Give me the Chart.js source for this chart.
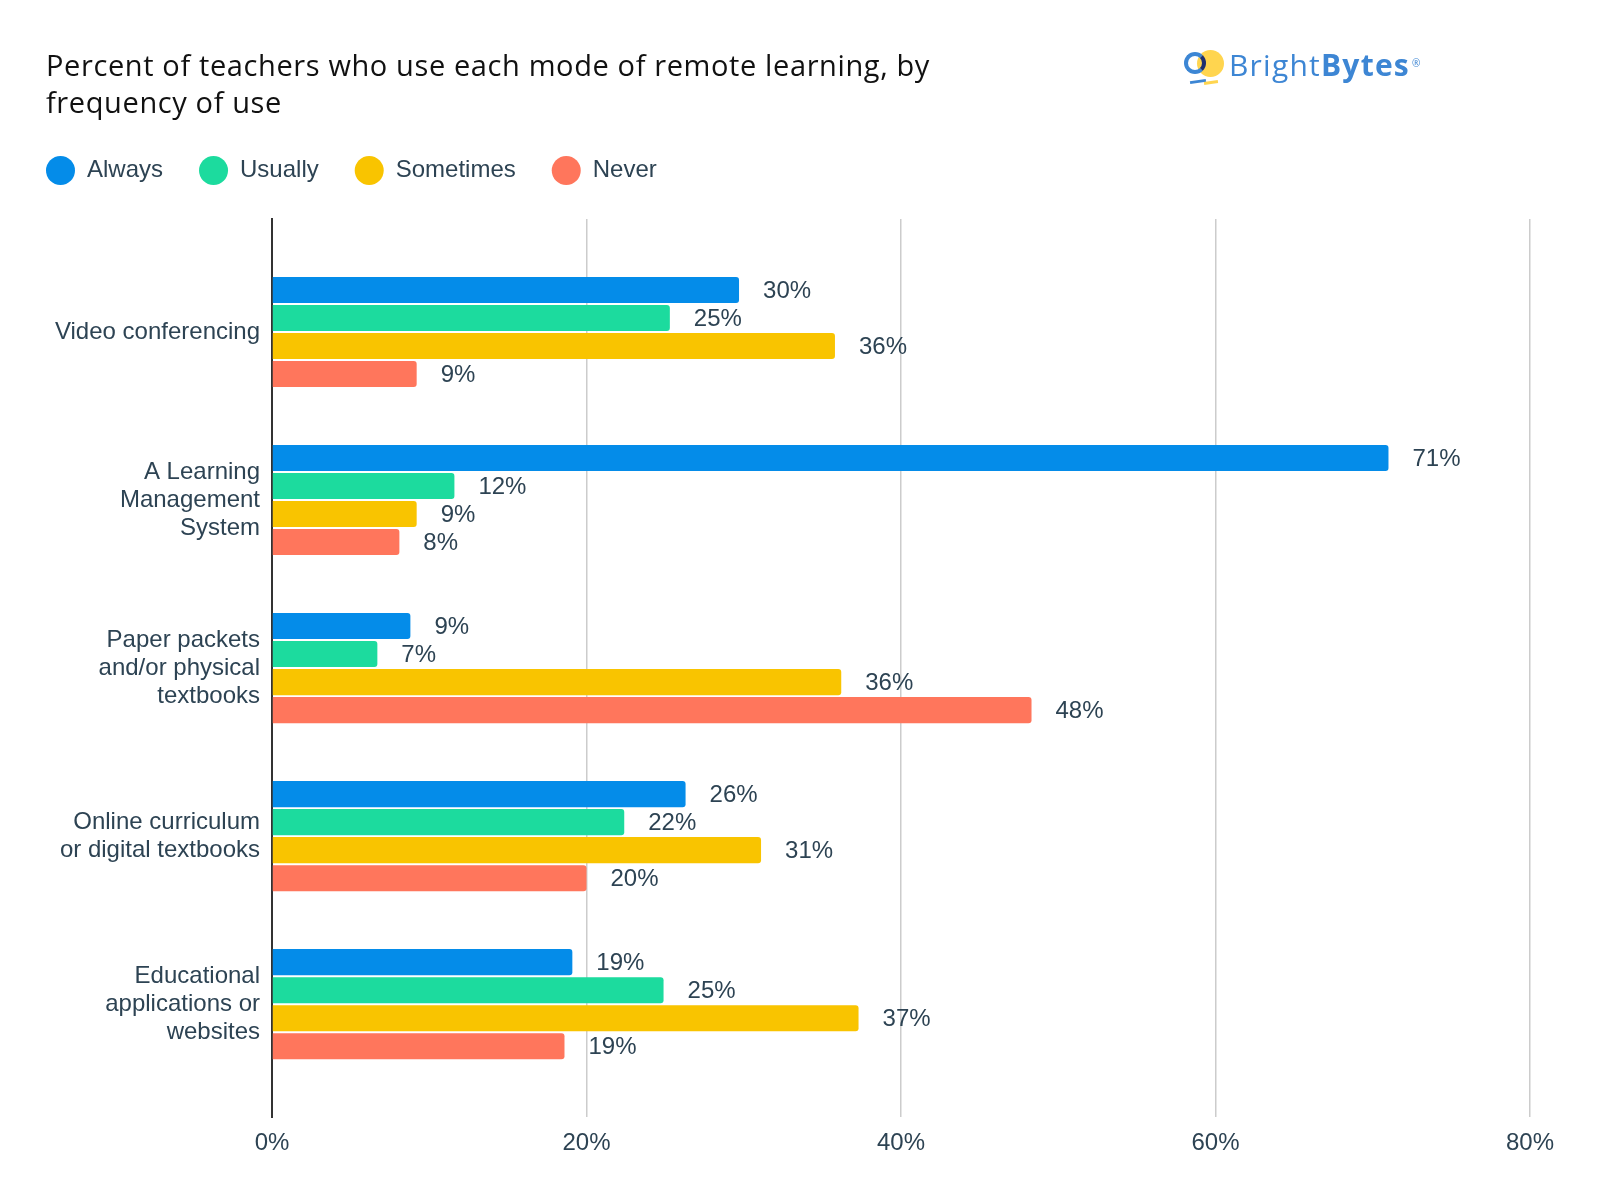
<!DOCTYPE html>
<html>
<head>
<meta charset="utf-8">
<script src="https://cdn.jsdelivr.net/npm/chart.js@4.4.1/dist/chart.umd.min.js"></script>
<style>
  html, body { margin: 0; padding: 0; background: #fff; }
  #wrap { position: relative; width: 1600px; height: 1200px; }
  #chart { position: absolute; left: 0; top: 0; }
  #title { position: absolute; left: 46px; top: 46px; font-family: "Open Sans", sans-serif; font-size: 29px; line-height: 37px; color: #111; white-space: nowrap; }
  .logo-disc { position: absolute; left: 1197px; top: 50px; width: 27px; height: 27px; border-radius: 50%; background: #ffd54f; }
  .logo-ring { position: absolute; left: 1184px; top: 52px; width: 22px; height: 22px; box-sizing: border-box; border-radius: 50%; border: 4px solid #3c86d4; border-right-color: #1f2f6e; }
  .logo-line1 { position: absolute; left: 1190px; top: 80px; width: 16px; height: 3px; background: #3c86d4; transform: rotate(-8deg); }
  .logo-line2 { position: absolute; left: 1204px; top: 81px; width: 14px; height: 3px; background: #ffd54f; transform: rotate(-8deg); }
  .logo-word { position: absolute; left: 1229px; top: 50px; font-family: "Open Sans", sans-serif; font-size: 30px; font-weight: 500; line-height: 30px; color: #3d86d4; white-space: nowrap; }
  .logo-word b { font-weight: 700; }
  .logo-word sup { font-size: 10px; font-weight: 400; vertical-align: top; position: relative; top: -2px; margin-left: 2px; }
</style>
</head>
<body>
<div id="wrap">
  <canvas id="chart" width="1600" height="1200"></canvas>
  <div id="title"><span id="title1">Percent of teachers who use each mode of remote learning, by</span><br><span>frequency of use</span></div>
  <div class="logo-disc"></div>
  <div class="logo-ring"></div>
  <div class="logo-line1"></div>
  <div class="logo-line2"></div>
  <div class="logo-word"><span id="word">Bright<b>Bytes</b></span><sup>®</sup></div>
</div>
<script>
const categoryLines = [
    ['Video conferencing'],
    ['A Learning', 'Management', 'System'],
    ['Paper packets', 'and/or physical', 'textbooks'],
    ['Online curriculum', 'or digital textbooks'],
    ['Educational', 'applications or', 'websites']
];
const seriesNames = ['Always', 'Usually', 'Sometimes', 'Never'];
const seriesColors = ['#048ce9', '#1cdb9e', '#f9c400', '#ff765c'];
const always    = [29.7, 71.0, 8.8, 26.3, 19.1];
const usually   = [25.3, 11.6, 6.7, 22.4, 24.9];
const sometimes = [35.8, 9.2, 36.2, 31.1, 37.3];
const never     = [9.2, 8.1, 48.3, 20.0, 18.6];
const xMax = 80;
const xStep = 20;

const textColor = '#2d4353';
const baseFont = '"Liberation Sans", Arial, sans-serif';

// stretch the heading text to the width it has in the original
function fitWidth(el, target) {
    const chars = el.textContent.length;
    el.parentNode.style.letterSpacing = ((target - el.getBoundingClientRect().width) / chars) + 'px';
}
fitWidth(document.getElementById('title1'), 884);
fitWidth(document.getElementById('word'), 181);

// labels at the end of each bar
const valueLabels = {
    id: 'valueLabels',
    afterDatasetsDraw(chart) {
        const ctx = chart.ctx;
        ctx.save();
        ctx.font = '24px ' + baseFont;
        ctx.fillStyle = textColor;
        ctx.textBaseline = 'middle';
        chart.data.datasets.forEach((ds, i) => {
            chart.getDatasetMeta(i).data.forEach((bar, j) => {
                ctx.fillText(Math.round(ds.data[j]) + '%', bar.x + 24, bar.y + 1);
            });
        });
        ctx.restore();
    }
};

// extra room under the legend
const legendGap = {
    id: 'legendGap',
    beforeInit(chart) {
        const fit = chart.legend.fit;
        chart.legend.fit = function () {
            fit.bind(chart.legend)();
            this.height += 24;
        };
    }
};

const allSeries = [always, usually, sometimes, never];

new Chart(document.getElementById('chart'), {
    type: 'bar',
    data: {
        labels: categoryLines.map((c, i) => i),
        datasets: seriesNames.map((name, i) => ({
            label: name,
            data: allSeries[i],
            backgroundColor: seriesColors[i],
            borderWidth: 0,
            borderRadius: 3,
            categoryPercentage: 0.667,
            barPercentage: 0.93
        }))
    },
    options: {
        indexAxis: 'y',
        responsive: false,
        animation: false,
        layout: { padding: { top: 120, left: 10, right: 70, bottom: 30 } },
        plugins: {
            tooltip: { enabled: false },
            legend: {
                position: 'top',
                align: 'start',
                labels: {
                    boxWidth: 29,
                    boxHeight: 29,
                    useBorderRadius: true,
                    borderRadius: 14.5,
                    padding: 36,
                    color: textColor,
                    font: { size: 24, family: baseFont }
                }
            }
        },
        scales: {
            x: {
                min: 0,
                max: xMax,
                grid: { color: '#cccccc', lineWidth: 1.5, drawTicks: false },
                border: { display: false },
                ticks: {
                    stepSize: xStep,
                    padding: 12,
                    color: textColor,
                    font: { size: 24, family: baseFont },
                    callback: v => v + '%'
                }
            },
            y: {
                type: 'linear',
                reverse: true,
                offset: false,
                min: -0.6726,
                max: 4.6726,
                grid: { display: false, drawTicks: false, offset: false },
                border: { display: true, color: '#333333', width: 2 },
                afterBuildTicks: scale => { scale.ticks = categoryLines.map((c, i) => ({ value: i })); },
                afterFit: scale => { scale.width = 262; },
                ticks: {
                    padding: 12,
                    color: textColor,
                    font: { size: 24, family: baseFont, lineHeight: 1.17 },
                    callback: v => categoryLines[v] || ''
                }
            }
        }
    },
    plugins: [valueLabels, legendGap]
});
</script>
</body>
</html>
